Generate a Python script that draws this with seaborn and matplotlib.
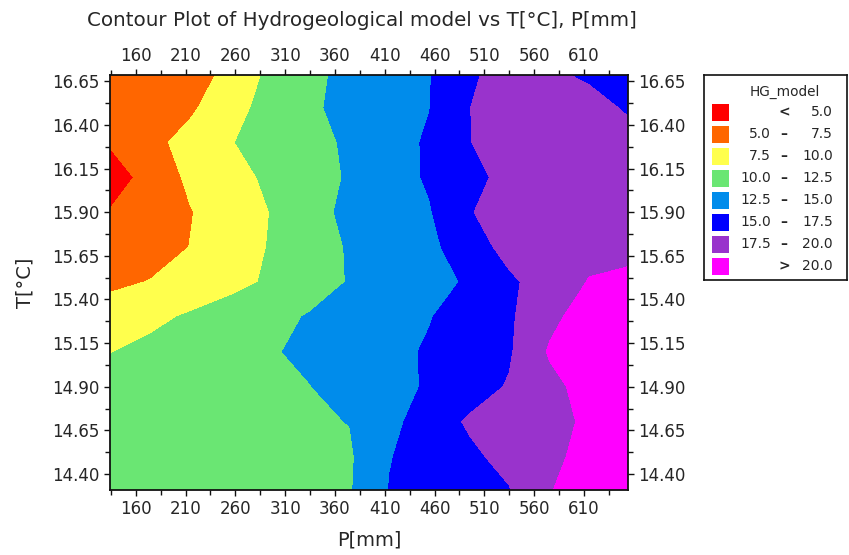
import numpy as np
import matplotlib
matplotlib.use("Agg")
import matplotlib.pyplot as plt
from matplotlib.patches import Rectangle
from matplotlib.ticker import FormatStrFormatter
import seaborn as sns

# %%
# grid: P[mm] columns, T[°C] rows (bottom to top)
p_mm = [135, 175, 215, 255, 295, 335, 375, 415, 455, 495, 535, 575, 615, 655]
t_c = [14.30, 14.50, 14.70, 14.90, 15.10, 15.30, 15.50, 15.70, 15.90, 16.10, 16.30, 16.50, 16.70]

hg_model = [
  [11.00, 11.25, 11.50, 11.70, 11.90, 12.10, 12.30, 15.10, 15.90, 16.60, 17.35, 19.90, 21.00, 21.60],
  [10.90, 11.20, 11.50, 11.75, 11.95, 12.15, 12.20, 14.90, 15.97, 17.04, 18.21, 19.47, 20.70, 21.50],
  [10.80, 11.10, 11.40, 11.70, 11.95, 12.20, 12.55, 14.30, 16.25, 17.80, 18.60, 19.40, 20.30, 21.00],
  [10.60, 11.00, 11.40, 11.80, 12.10, 12.45, 13.39, 14.29, 15.24, 16.44, 17.69, 19.38, 20.80, 21.50],
  [ 9.95, 10.52, 11.10, 11.70, 12.29, 12.97, 13.70, 14.43, 15.23, 16.23, 17.23, 20.20, 21.50, 22.00],
  [ 8.70,  9.50, 10.26, 11.07, 11.87, 12.66, 13.41, 14.16, 14.90, 16.00, 17.15, 19.45, 21.00, 21.80],
  [ 7.00,  7.60,  8.50,  9.30, 10.30, 11.50, 12.63, 13.46, 14.28, 15.25, 17.07, 18.64, 20.10, 20.40],
  [ 5.50,  6.40,  7.55,  8.84, 10.12, 11.45, 12.69, 13.57, 14.45, 16.32, 18.30, 19.00, 19.40, 19.50],
  [ 5.20,  6.20,  7.40,  8.69, 10.02, 11.73, 13.00, 13.92, 14.83, 17.33, 18.80, 19.30, 19.50, 19.60],
  [ 3.70,  5.98,  7.96,  9.19, 10.40, 11.56, 12.73, 13.98, 15.28, 16.79, 18.20, 19.00, 19.30, 19.30],
  [ 5.30,  6.80,  8.37,  9.87, 10.87, 11.81, 12.82, 14.00, 15.32, 17.40, 19.00, 19.50, 19.50, 18.80],
  [ 5.60,  6.20,  7.10,  9.14, 10.80, 12.14, 13.17, 14.09, 14.95, 17.45, 19.00, 19.30, 18.80, 17.00],
  [ 5.40,  5.80,  6.30,  8.14, 10.46, 11.97, 13.09, 14.00, 14.91, 16.89, 19.00, 18.00, 16.80, 16.00],
]

level_bounds = [5.0, 7.5, 10.0, 12.5, 15.0, 17.5, 20.0]
level_colors = ["#ff0000", "#ff6600", "#ffff4d", "#6ae673", "#008ceb",
                "#0000ff", "#9933cc", "#ff00ff"]

# %%
sns.set_style("ticks")
plt.rcParams['font.family'] = ['DejaVu Sans']

fig = plt.figure(figsize=(8.49, 5.55), dpi=100)
ax = fig.add_axes([110.3/849, 1-490/555, (628-110.3)/849, (490-75)/555])

Z = np.array(hg_model)
levels = [-100] + level_bounds + [100]
ax.contourf(p_mm, t_c, Z, levels=levels, colors=sns.color_palette(level_colors))

ax.set_xticks(np.arange(160, 611, 50))
ax.set_xticks(np.arange(135, 655, 25), minor=True)
ax.set_yticks(np.arange(14.40, 16.66, 0.25))
ax.set_yticks(np.arange(14.275, 16.7, 0.125), minor=True)
ax.set_xlim(134.5, 654.2)
ax.set_ylim(14.308, 16.686)
ax.yaxis.set_major_formatter(FormatStrFormatter('%.2f'))
ax.tick_params(which='both', direction='out', top=True, right=True,
               labeltop=True, labelright=True, labelsize=12, width=1,
               color='#111111', pad=3)
ax.tick_params(which='major', length=4.5)
ax.tick_params(which='minor', length=3.5)
for s in ax.spines.values():
  s.set_linewidth(1.3)
  s.set_color('#111111')

ax.set_xlabel("P[mm]", fontsize=14, labelpad=9)
ax.set_ylabel("T[°C]", fontsize=14, labelpad=13)
fig.text(362/849, 1-20/555, "Contour Plot of Hydrogeological model vs T[°C], P[mm]",
         ha='center', va='center', fontsize=14.3)

# %%
# legend box drawn by hand (value columns are right aligned)
lax = fig.add_axes([704/849, 1-280/555, 143/849, 205/555])
lax.set_xlim(704, 847)
lax.set_ylim(280, 75)
lax.set_xticks([])
lax.set_yticks([])
for s in lax.spines.values():
  s.set_linewidth(1.2)
  s.set_color('#111111')
lax.text(785, 92, "HG_model", ha='center', va='center', fontsize=9.8)
fmt = [f"{b:.1f}" for b in level_bounds]
lows = [""] + fmt[:-1] + [""]
highs = fmt + [fmt[-1]]
signs = ["<"] + ["–"] * (len(level_bounds) - 1) + [">"]
for i, c in enumerate(level_colors):
  yc = 112 + 22 * i
  lax.add_patch(Rectangle((712, yc - 8.5), 17, 17, facecolor=c, edgecolor='none'))
  lax.text(771, yc, lows[i], ha='right', va='center', fontsize=10)
  lax.text(784, yc, signs[i], ha='center', va='center', fontsize=10, fontweight='bold')
  lax.text(833, yc, highs[i], ha='right', va='center', fontsize=10)

plt.savefig('out.png', dpi=100)
